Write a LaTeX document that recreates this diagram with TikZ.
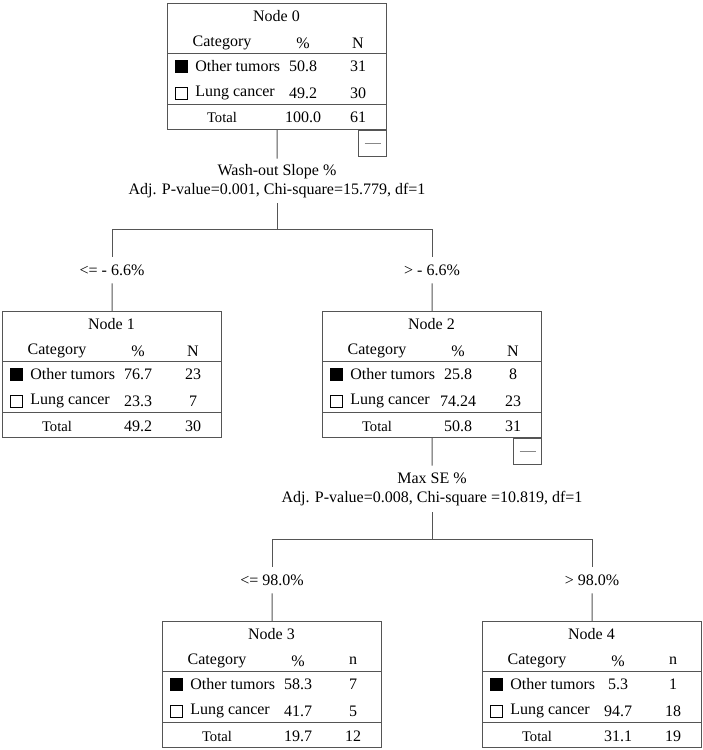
\documentclass[tikz,border=0pt]{standalone}
\usepackage{fontspec}
\setmainfont{Liberation Serif}
\newdimen\px \px=0.75pt
\definecolor{linegray}{RGB}{85,85,85}
\tikzset{
  box/.style={draw=linegray, line width=1.1*\px, fill=white, inner sep=0, anchor=north west,
              minimum width=219*\px, minimum height=126*\px},
  cell/.style={inner sep=0, font=\fontsize{12}{14}\selectfont},
  lcell/.style={cell, anchor=west},
  conn/.style={draw=linegray, line width=1*\px},
  splitlbl/.style={inner sep=0, align=center, font=\fontsize{12}{14.25}\selectfont},
  branchlbl/.style={inner sep=0, minimum height=26*\px, font=\fontsize{12}{14}\selectfont},
  sq/.style={draw=black, line width=0.8*\px, inner sep=0, minimum size=12*\px},
  minbox/.style={draw=linegray, line width=1.1*\px, inner sep=0, anchor=north east,
                 minimum width=28*\px, minimum height=26*\px}
}
% #1 name, #2 left, #3 top, #4 title, #5 N-label, #6 p1, #7 n1, #8 p2, #9 n2
\newcommand\treenode[9]{%
  \node[box] (#1) at (#2,#3) {};
  \begin{scope}[shift={(#2,#3)}]
    \node[cell] (#1-title) at (109.5,13) {#4};
    \node[cell] (#1-cat) at (55,40) {Category};
    \node[cell] (#1-pct) at (136,40) {\%};
    \node[cell] (#1-n) at (191,40) {#5};
    \draw[conn] (0,50) -- (219,50);
    \node[sq, fill=black] (#1-sq1) at (14,63) {};
    \node[lcell] (#1-c1) at (28,63) {Other tumors};
    \node[cell] (#1-p1) at (136,63) {#6};
    \node[cell] (#1-n1) at (191,63) {#7};
    \node[sq, fill=white] (#1-sq2) at (14,90) {};
    \node[lcell] (#1-c2) at (28,90) {Lung cancer};
    \node[cell] (#1-p2) at (136,90) {#8};
    \node[cell] (#1-n2) at (191,90) {#9};
    \draw[conn] (0,101) -- (219,101);
  \end{scope}
}
\begin{document}
\begin{tikzpicture}[x=\px,y=-\px]
\useasboundingbox (0,0) rectangle (703,750);

% Node 0
\treenode{n0}{167}{3}{Node 0}{N}{50.8}{31}{49.2}{30}
\node[cell] (n0-tot) at (222,117) {\fontsize{11}{13}\selectfont Total};
\node[cell] (n0-pt) at (303,117) {100.0};
\node[cell] (n0-nt) at (358,117) {61};
\node[minbox] (m0) at (n0.south east) {};
\draw[linegray!70, line width=1*\px] ([xshift=-8*\px]m0.center) -- ([xshift=8*\px]m0.center);

% Node 1
\treenode{n1}{2}{311}{Node 1}{N}{76.7}{23}{23.3}{7}
\node[cell] (n1-tot) at (57,426) {\fontsize{11}{13}\selectfont Total};
\node[cell] (n1-pt) at (138,426) {49.2};
\node[cell] (n1-nt) at (193,426) {30};

% Node 2
\treenode{n2}{322}{311}{Node 2}{N}{25.8}{8}{74.24}{23}
\node[cell] (n2-tot) at (377,426) {\fontsize{11}{13}\selectfont Total};
\node[cell] (n2-pt) at (458,426) {50.8};
\node[cell] (n2-nt) at (513,426) {31};
\node[minbox] (m2) at (n2.south east) {};
\draw[linegray!70, line width=1*\px] ([xshift=-8*\px]m2.center) -- ([xshift=8*\px]m2.center);

% Node 3
\treenode{n3}{162}{621}{Node 3}{n}{58.3}{7}{41.7}{5}
\node[cell] (n3-tot) at (217,736) {\fontsize{11}{13}\selectfont Total};
\node[cell] (n3-pt) at (298,736) {19.7};
\node[cell] (n3-nt) at (353,736) {12};

% Node 4
\treenode{n4}{482}{621}{Node 4}{n}{5.3}{1}{94.7}{18}
\node[cell] (n4-tot) at (537,736) {\fontsize{11}{13}\selectfont Total};
\node[cell] (n4-pt) at (618,736) {31.1};
\node[cell] (n4-nt) at (673,736) {19};

% Split 0
\node[splitlbl, minimum height=44*\px] (s0) at (277,181)
  {Wash-out Slope \%\\Adj. P-value=0.001, Chi-square=15.779, df=1};
\coordinate (h0) at (277,229);
\coordinate (b0l) at (112,229);
\coordinate (b0r) at (432,229);
\node[branchlbl] (l1) at (112,270) {<= - 6.6\%};
\node[branchlbl] (l2) at (432,270) {> - 6.6\%};
\draw[conn] (n0.south) -- (s0.north);
\draw[conn] (s0.south) -- (h0);
\draw[conn] (b0l) -- (b0r);
\draw[conn] (b0l) -- (l1.north);
\draw[conn] (l1.south) -- (n1.north);
\draw[conn] (b0r) -- (l2.north);
\draw[conn] (l2.south) -- (n2.north);

% Split 2
\node[splitlbl, minimum height=46*\px] (s2) at (432,489)
  {Max SE \%\\Adj. P-value=0.008, Chi-square =10.819, df=1};
\coordinate (h2) at (432,539);
\coordinate (b2l) at (272,539);
\coordinate (b2r) at (592,539);
\node[branchlbl] (l3) at (272,580) {<= 98.0\%};
\node[branchlbl] (l4) at (592,580) {> 98.0\%};
\draw[conn] (n2.south) -- (s2.north);
\draw[conn] (s2.south) -- (h2);
\draw[conn] (b2l) -- (b2r);
\draw[conn] (b2l) -- (l3.north);
\draw[conn] (l3.south) -- (n3.north);
\draw[conn] (b2r) -- (l4.north);
\draw[conn] (l4.south) -- (n4.north);
\end{tikzpicture}
\end{document}
